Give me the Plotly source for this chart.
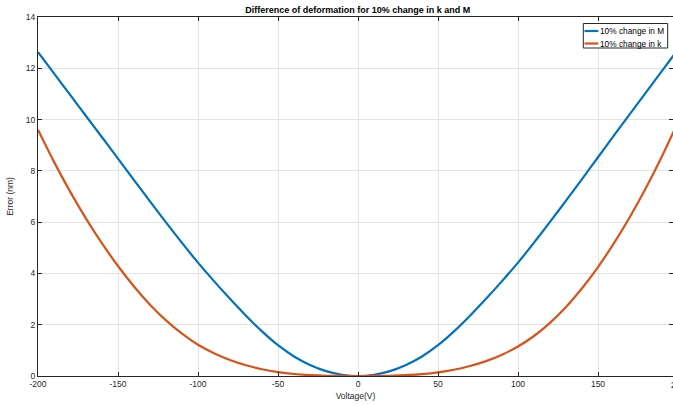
import plotly.graph_objects as go

voltage = [-200, -190, -180, -170, -160, -150, -140, -130, -120, -110, -100,
           -90, -80, -70, -60, -50, -40, -30, -20, -10, 0,
           10, 20, 30, 40, 50, 60, 70, 80, 90, 100,
           110, 120, 130, 140, 150, 160, 170, 180, 190, 200]

err_M = [12.63, 11.80, 10.97, 10.14, 9.31, 8.48, 7.64, 6.81, 5.99, 5.19, 4.42,
         3.70, 3.01, 2.35, 1.74, 1.20, 0.76, 0.43, 0.19, 0.05, 0.0,
         0.05, 0.19, 0.43, 0.76, 1.20, 1.74, 2.35, 3.01, 3.70, 4.42,
         5.20, 6.01, 6.84, 7.68, 8.53, 9.38, 10.22, 11.06, 11.90, 12.74]

err_k = [9.60, 8.35, 7.20, 6.14, 5.17, 4.29, 3.49, 2.78, 2.17, 1.65, 1.22,
         0.889, 0.625, 0.418, 0.264, 0.153, 0.078, 0.033, 0.0098, 0.0012, 0.0,
         0.001, 0.009, 0.031, 0.072, 0.141, 0.244, 0.388, 0.579, 0.83, 1.15,
         1.56, 2.07, 2.69, 3.42, 4.25, 5.18, 6.21, 7.34, 8.57, 9.90]

series_names = ["10% change in M", "10% change in k"]
series_colors = ["#0072BD", "#D95319"]

x_ticks = [-200, -150, -100, -50, 0, 50, 100, 150, 200]
y_ticks = [0, 2, 4, 6, 8, 10, 12, 14]

FONT = "Liberation Sans, Arial, Helvetica, sans-serif"
AX = "#262626"

fig = go.Figure()
for name, ys, col in zip(series_names, [err_M, err_k], series_colors):
    fig.add_trace(go.Scatter(x=voltage, y=ys, mode="lines", name=name, showlegend=False,
                             line=dict(color=col, width=2.2, shape="spline", smoothing=0.8)))

W, H = 673, 405
L, R, T, B = 38, 0, 17, 29
PW, PH = W - L - R, H - T - B
px_per_v = 1.6
x_end = -200 + PW / px_per_v


def px(xp):
    return (xp - L) / PW


def py(yp):
    return (H - B - yp) / PH


fig.update_layout(
    width=W, height=H,
    margin=dict(l=L, r=R, t=T, b=B),
    paper_bgcolor="white", plot_bgcolor="white",
    font=dict(family=FONT, size=8.5, color=AX),
    title=dict(text="<b>Difference of deformation for 10% change in k and M</b>",
               x=px(357.7), xref="paper", xanchor="center",
               y=1 - 10 / H, yref="container", yanchor="middle",
               font=dict(size=9, color="#000000", family=FONT)),
    showlegend=False,
    xaxis=dict(range=[-200, x_end], tickvals=x_ticks, ticktext=[str(v) for v in x_ticks],
               showgrid=True, gridcolor="#e3e3e3", gridwidth=1, zeroline=False,
               showline=True, linecolor=AX, linewidth=1, mirror="ticks",
               ticks="inside", ticklen=4, tickcolor=AX, tickfont=dict(size=8.5, color=AX),
               title=dict(text="Voltage(V)", font=dict(size=8.5, color=AX), standoff=4)),
    yaxis=dict(range=[0, 14], tickvals=y_ticks, ticktext=[str(v) for v in y_ticks],
               showgrid=True, gridcolor="#e3e3e3", gridwidth=1, zeroline=False,
               showline=True, linecolor=AX, linewidth=1, mirror="ticks",
               ticks="inside", ticklen=4, tickcolor=AX, tickfont=dict(size=8.5, color=AX),
               title=dict(text="Error (nm)", font=dict(size=8.5, color=AX), standoff=10)),
)

# clipped "200" label at the right edge (the axis extends past the image)
fig.add_annotation(x=px(677.7), xref="paper", y=0, yref="paper",
                   text=str(x_ticks[-1]), showarrow=False, xanchor="center", yanchor="top",
                   yshift=-2, font=dict(size=8.5, color=AX, family=FONT))

# MATLAB-style compact legend box
fig.add_shape(type="rect", xref="paper", yref="paper",
              x0=px(583.3), x1=px(667.7), y0=py(48), y1=py(23.5),
              fillcolor="white", line=dict(color=AX, width=1), layer="above")
for i, (name, col) in enumerate(zip(series_names, series_colors)):
    yrow = 31 + i * 12.5
    fig.add_shape(type="line", xref="paper", yref="paper",
                  x0=px(584.5), x1=px(598.3), y0=py(yrow), y1=py(yrow),
                  line=dict(color=col, width=2.2), layer="above")
    fig.add_annotation(x=px(598), xref="paper", y=py(yrow), yref="paper",
                       text=name, showarrow=False, xanchor="left", yanchor="middle",
                       font=dict(size=8.3, color="#000000", family=FONT))

fig.write_html("out.html")
